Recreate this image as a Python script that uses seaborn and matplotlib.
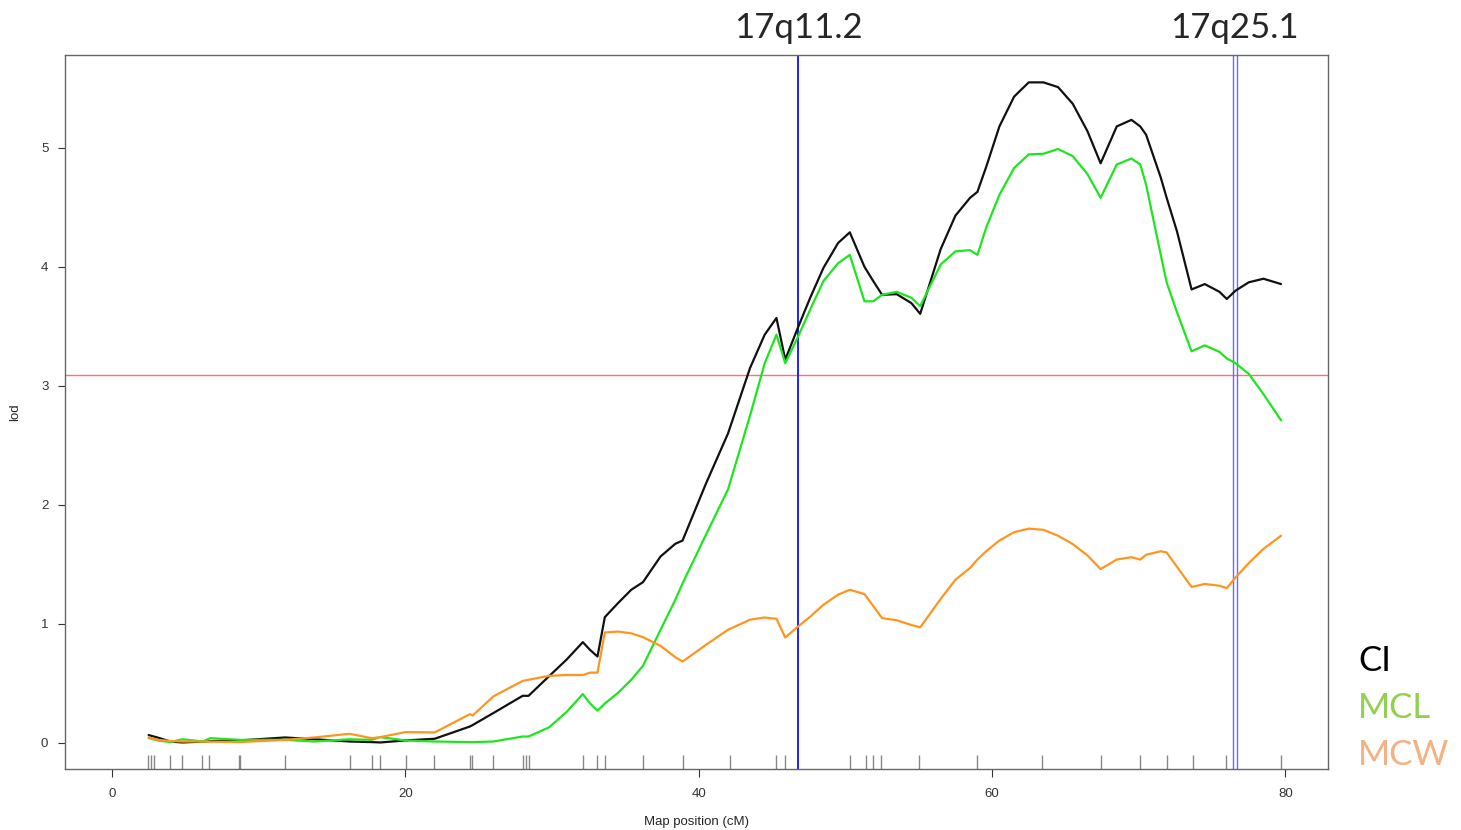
import numpy as np
import pandas as pd
import matplotlib
matplotlib.use("Agg")
import matplotlib.pyplot as plt
import seaborn as sns

# map positions (cM) and lod scores for the three traits
pos = [2.5, 3.1, 4.0, 4.8, 6.2, 6.7, 8.7, 11.8, 13.8, 16.2, 17.7, 18.3, 20.0, 22.0,
       24.4, 24.6, 26.0, 28.0, 28.4, 29.8, 31.0, 32.1, 32.6, 33.1, 33.6, 34.5, 35.4,
       36.2, 37.4, 38.4, 38.9, 40.5, 42.0, 43.5, 44.5, 45.3, 45.9, 46.8, 47.6, 48.5,
       49.5, 50.3, 51.3, 51.9, 52.5, 53.5, 54.5, 55.1, 56.5, 57.5, 58.5, 59.0, 59.6,
       60.5, 61.5, 62.5, 63.5, 64.5, 65.5, 66.5, 67.4, 68.5, 69.5, 70.1, 70.5, 71.5,
       71.9, 72.6, 73.6, 74.5, 75.5, 76.0, 76.6, 77.5, 78.5, 79.7]

lod_ci = [0.065, 0.045, 0.01, 0.003, 0.01, 0.014, 0.02, 0.045, 0.03, 0.011, 0.006, 0.003, 0.02, 0.034,
          0.137, 0.15, 0.25, 0.395, 0.395, 0.56, 0.70, 0.846, 0.78, 0.725, 1.056, 1.174, 1.286,
          1.35, 1.566, 1.672, 1.70, 2.18, 2.60, 3.15, 3.43, 3.57, 3.22, 3.50, 3.74, 3.99,
          4.20, 4.29, 4.0, 3.88, 3.765, 3.77, 3.695, 3.605, 4.15, 4.43, 4.58, 4.63, 4.84,
          5.18, 5.43, 5.55, 5.55, 5.51, 5.37, 5.14, 4.87, 5.18, 5.235, 5.18, 5.11, 4.75,
          4.58, 4.30, 3.81, 3.855, 3.79, 3.73, 3.80, 3.87, 3.90, 3.855]

lod_mcl = [0.04, 0.02, 0.006, 0.03, 0.011, 0.039, 0.025, 0.025, 0.011, 0.03, 0.025, 0.048, 0.02, 0.011,
           0.006, 0.006, 0.011, 0.053, 0.053, 0.13, 0.26, 0.41, 0.33, 0.27, 0.33, 0.42, 0.53,
           0.647, 0.95, 1.2, 1.34, 1.75, 2.13, 2.75, 3.19, 3.43, 3.19, 3.42, 3.64, 3.88,
           4.03, 4.10, 3.71, 3.71, 3.765, 3.79, 3.74, 3.67, 4.02, 4.13, 4.14, 4.10, 4.33,
           4.605, 4.83, 4.945, 4.95, 4.99, 4.93, 4.78, 4.58, 4.86, 4.91, 4.86, 4.69, 4.10,
           3.87, 3.62, 3.29, 3.34, 3.285, 3.23, 3.19, 3.10, 2.93, 2.71]

lod_mcw = [0.045, 0.025, 0.015, 0.011, 0.011, 0.01, 0.006, 0.025, 0.045, 0.076, 0.039, 0.048, 0.09, 0.087,
           0.241, 0.23, 0.39, 0.52, 0.53, 0.563, 0.57, 0.57, 0.59, 0.59, 0.927, 0.935, 0.92,
           0.888, 0.815, 0.72, 0.683, 0.824, 0.95, 1.035, 1.053, 1.042, 0.885, 0.98, 1.06, 1.16,
           1.245, 1.286, 1.25, 1.15, 1.048, 1.03, 0.99, 0.97, 1.21, 1.37, 1.47, 1.54, 1.61,
           1.70, 1.77, 1.80, 1.79, 1.74, 1.67, 1.575, 1.46, 1.54, 1.56, 1.54, 1.58, 1.61,
           1.60, 1.48, 1.31, 1.335, 1.32, 1.30, 1.39, 1.51, 1.63, 1.74]

markers = [2.49, 2.66, 2.90, 3.95, 4.80, 6.17, 6.65, 8.65, 8.72, 11.79, 16.22, 17.72, 18.26,
           20.04, 21.98, 24.44, 24.55, 25.96, 28.05, 28.2, 28.42, 32.14, 33.05, 33.64, 36.22,
           38.9, 42.1, 45.3, 45.9, 50.3, 51.4, 51.85, 52.4, 55.0, 59.0, 63.4, 67.4, 70.1,
           71.9, 73.7, 75.97, 79.7]

threshold = 3.09
bands = ["17q11.2", "17q25.1"]
band_pos = [[46.8], [76.4, 76.7]]
traits = ["CI", "MCL", "MCW"]
line_colors = ["#111111", "#1EE61E", "#FF9520"]
label_colors = ["#000000", "#92D050", "#F4B183"]

df = pd.DataFrame({
    "pos": pos * 3,
    "lod": lod_ci + lod_mcl + lod_mcw,
    "trait": [t for t in traits for _ in pos],
})

sns.set_style("white")
plt.rcParams["font.family"] = ["Liberation Sans", "DejaVu Sans"]

fig = plt.figure(figsize=(14.61, 8.30), dpi=100)
ax = fig.add_axes([65 / 1461, 1 - 769 / 830, (1328 - 65) / 1461, (769 - 55) / 830])

sns.lineplot(data=df, x="pos", y="lod", hue="trait", palette=dict(zip(traits, line_colors)),
             linewidth=1.6, legend=False, ax=ax, estimator=None, sort=True)
sns.rugplot(x=markers, height=0.02, color="#888888", linewidth=1.0, ax=ax)

ax.axhline(threshold, color="#FF6F6F", linewidth=1.0, zorder=1)
ax.axvline(band_pos[0][0], color="#2020FF", linewidth=1.4, zorder=1)
for x in band_pos[1]:
    ax.axvline(x, color="#6A6AFF", linewidth=1.0, zorder=1)

ax.set_xlim(-3.2, 82.9)
ax.set_ylim(-0.22, 5.78)
ax.set_xticks([0, 20, 40, 60, 80])
ax.set_yticks([0, 1, 2, 3, 4, 5])
ax.tick_params(axis="x", direction="out", length=5.5, width=0.8, colors="#333333",
               labelsize=9.5, pad=8, bottom=True)
ax.tick_params(axis="y", direction="out", length=5, width=0.8, colors="#333333",
               labelsize=9.5, pad=7, left=True)
for s in ax.spines.values():
    s.set_color("#666666")
    s.set_linewidth(1.0)
ax.set_xlabel("Map position (cM)", fontsize=9.5, labelpad=12)
ax.set_ylabel("lod", fontsize=9.5, labelpad=14)

# chromosome band labels above the plot
for name, xs in zip(bands, band_pos):
    ax.text(np.mean(xs), 1 + 17 / 714, name, transform=ax.get_xaxis_transform(),
            ha="center", va="baseline", fontsize=25, family=["Lato", "DejaVu Sans"])

# coloured trait names on the right
for i, (t, c) in enumerate(zip(traits, label_colors)):
    fig.text(1358 / 1461, 1 - (661 + 47 * i) / 830, t, color=c, fontsize=25,
             ha="left", va="center", family=["Lato", "DejaVu Sans"])

fig.savefig("out.png", dpi=100)
